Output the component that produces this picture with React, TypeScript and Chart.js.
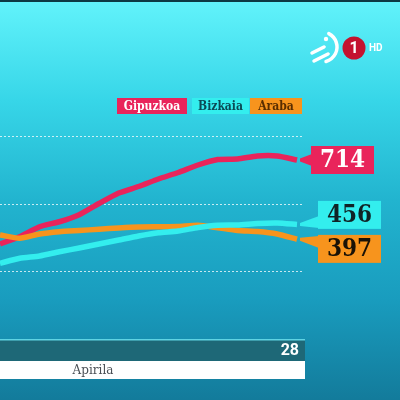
import React, { useEffect, useRef } from "react";
import { Chart, registerables } from "chart.js";

Chart.register(...registerables);

// ---- data ----
const DAYS = ["13", "14", "15", "16", "17", "18", "19", "20", "21", "22", "23", "24", "25", "26", "27", "28"];
const MONTH_LABEL = "Apirila";
const GIPUZKOA = [378, 407, 447, 467, 495, 540, 582, 608, 638, 664, 694, 716, 718, 730, 730, 714];
const BIZKAIA = [301, 321, 330, 347, 362, 378, 394, 410, 423, 430, 444, 453, 454, 460, 462, 456];
const ARABA = [414, 401, 418, 427, 432, 437, 442, 446, 447, 448, 453, 443, 432, 428, 418, 397];
const SERIES_NAMES = ["Gipuzkoa", "Bizkaia", "Araba"];
const GRID_VALUES = [270, 540, 810];

const COLORS = ["#e9245b", "#33eeee", "#f7941d"];
const LABEL_TEXT = ["#ffffff", "#0b4a55", "#5a2e00"];
const VALUE_TEXT = ["#ffffff", "#102326", "#1a1206"];

const overlayPlugin = {
  id: "overlay",
  beforeDraw(chart: any) {
    const { ctx, width, height } = chart;
    ctx.save();
    const g = ctx.createLinearGradient(0, 0, 0, height);
    g.addColorStop(0, "#62f3fb");
    g.addColorStop(0.25, "#37d6e8");
    g.addColorStop(0.5, "#22b4cf");
    g.addColorStop(0.75, "#199cbe");
    g.addColorStop(1, "#137b9b");
    ctx.fillStyle = g;
    ctx.fillRect(0, 0, width, height);
    ctx.fillStyle = "#0d3a44";
    ctx.fillRect(0, 0, width, 2);
    ctx.restore();
  },
  beforeDatasetsDraw(chart: any) {
    const { ctx, chartArea } = chart;
    const y = chart.scales.y;
    ctx.save();
    ctx.strokeStyle = "rgba(255,255,255,0.75)";
    ctx.lineWidth = 1;
    ctx.setLineDash([2, 2]);
    GRID_VALUES.forEach((v) => {
      const py = Math.round(y.getPixelForValue(v)) + 0.5;
      ctx.beginPath();
      ctx.moveTo(chartArea.left, py);
      ctx.lineTo(chartArea.right + 6, py);
      ctx.stroke();
    });
    ctx.restore();
  },
  afterDatasetsDraw(chart: any) {
    const { ctx, chartArea } = chart;
    const xs = chart.scales.x;
    const ys = chart.scales.y;
    ctx.save();

    // ---- legend ----
    ctx.font = "bold 12px 'DejaVu Serif Condensed', 'DejaVu Serif'";
    ctx.textBaseline = "middle";
    ctx.textAlign = "center";
    const legendBoxes = [
      [117, 187],
      [192, 249],
      [250, 302],
    ];
    SERIES_NAMES.forEach((name, i) => {
      const [l, r] = legendBoxes[i];
      ctx.fillStyle = COLORS[i];
      ctx.fillRect(l, 98, r - l, 16);
      ctx.fillStyle = LABEL_TEXT[i];
      ctx.fillText(name, (l + r) / 2, 106.5);
    });

    // ---- end value labels ----
    const series = [GIPUZKOA, BIZKAIA, ARABA];
    const last = DAYS.length - 1;
    const endX = xs.getPixelForValue(last);
    const boxH = 28;
    const items = series.map((s, i) => ({
      i,
      value: s[last],
      lineY: ys.getPixelForValue(s[last]),
      cy: ys.getPixelForValue(s[last]),
    }));
    // resolve overlaps
    const sorted = [...items].sort((a, b) => a.cy - b.cy);
    for (let k = 0; k < 5; k++) {
      for (let j = 1; j < sorted.length; j++) {
        const a = sorted[j - 1];
        const b = sorted[j];
        const need = boxH + 6;
        if (b.cy - a.cy < need) {
          const mid = (a.cy + b.cy) / 2;
          a.cy = mid - need / 2;
          b.cy = mid + need / 2;
        }
      }
    }
    items.forEach((it) => {
      const left = it.i === 0 ? 311 : 318;
      const right = left + 63;
      const top = it.cy - boxH / 2;
      const bottom = it.cy + boxH / 2;
      ctx.fillStyle = COLORS[it.i];
      // connector
      const by = Math.min(Math.max(it.lineY, top + 7), bottom - 7);
      ctx.beginPath();
      ctx.moveTo(endX + 3, it.lineY - 1.5);
      ctx.lineTo(left + 1, by - 6);
      ctx.lineTo(left + 1, by + 6);
      ctx.lineTo(endX + 3, it.lineY + 1.5);
      ctx.closePath();
      ctx.fill();
      ctx.fillRect(left, top, right - left, boxH);
      ctx.fillStyle = VALUE_TEXT[it.i];
      ctx.font = "bold 24px 'DejaVu Serif Condensed', 'DejaVu Serif'";
      ctx.textAlign = "center";
      ctx.textBaseline = "middle";
      ctx.fillText(String(it.value), (left + right) / 2, it.cy + 1);
    });

    // ---- bottom date bar ----
    const barTop = chartArea.bottom + 0.5;
    ctx.fillStyle = "#1e6877";
    ctx.fillRect(0, barTop, endX + 8, 22);
    ctx.fillStyle = "#5fd3e3";
    ctx.fillRect(0, barTop, endX + 8, 1.5);
    ctx.fillStyle = "#ffffff";
    ctx.fillRect(0, barTop + 22, endX + 8, 18);
    ctx.font = "bold 16px Roboto";
    ctx.textAlign = "right";
    ctx.textBaseline = "middle";
    ctx.fillStyle = "#ffffff";
    ctx.fillText(DAYS[last], endX + 2, barTop + 12);
    ctx.font = "12px 'DejaVu Serif'";
    ctx.textAlign = "center";
    ctx.fillStyle = "#4a4f55";
    ctx.fillText(MONTH_LABEL, 93, barTop + 31.5);

    // ---- logo ----
    ctx.strokeStyle = "#ffffff";
    ctx.fillStyle = "#ffffff";
    ctx.lineCap = "round";
    ctx.lineWidth = 3.5;
    ctx.beginPath();
    ctx.arc(322, 47, 15, -1.1, 1.3);
    ctx.stroke();
    ctx.beginPath();
    ctx.moveTo(312, 53);
    ctx.lineTo(324, 47);
    ctx.stroke();
    ctx.beginPath();
    ctx.moveTo(314, 61);
    ctx.lineTo(328, 54);
    ctx.stroke();
    ctx.beginPath();
    ctx.arc(326, 39, 2.2, 0, Math.PI * 2);
    ctx.fill();
    ctx.fillStyle = "#c4122f";
    ctx.beginPath();
    ctx.arc(354, 48, 11.5, 0, Math.PI * 2);
    ctx.fill();
    ctx.fillStyle = "#ffffff";
    ctx.font = "bold 16px Roboto";
    ctx.textAlign = "center";
    ctx.fillText("1", 354, 49);
    ctx.font = "bold 10px Roboto";
    ctx.textAlign = "left";
    ctx.fillText("HD", 369, 48.5);

    ctx.restore();
  },
};

export default function App() {
  const ref = useRef<HTMLCanvasElement>(null);
  useEffect(() => {
    if (!ref.current) return;
    const chart = new Chart(ref.current, {
      type: "line",
      data: {
        labels: DAYS,
        datasets: [
          { label: SERIES_NAMES[1], data: BIZKAIA, borderColor: COLORS[1] },
          { label: SERIES_NAMES[2], data: ARABA, borderColor: COLORS[2] },
          { label: SERIES_NAMES[0], data: GIPUZKOA, borderColor: COLORS[0] },
        ].map((d) => ({
          ...d,
          borderWidth: 5.5,
          pointRadius: 0,
          tension: 0.2,
          fill: false,
          borderCapStyle: "butt" as const,
        })),
      },
      options: {
        animation: false,
        responsive: false,
        devicePixelRatio: 1,
        layout: { padding: { left: 0, right: 103, top: 0, bottom: 61.5 } },
        plugins: { legend: { display: false }, tooltip: { enabled: false } },
        scales: {
          x: { display: false },
          y: { display: false, min: 0, max: 1354 },
        },
      },
      plugins: [overlayPlugin],
    });
    return () => chart.destroy();
  }, []);
  return (
    <div style={{ position: "fixed", left: 0, top: 0, width: 400, height: 400 }}>
      <canvas ref={ref} width={400} height={400} style={{ width: 400, height: 400, display: "block" }} />
    </div>
  );
}
